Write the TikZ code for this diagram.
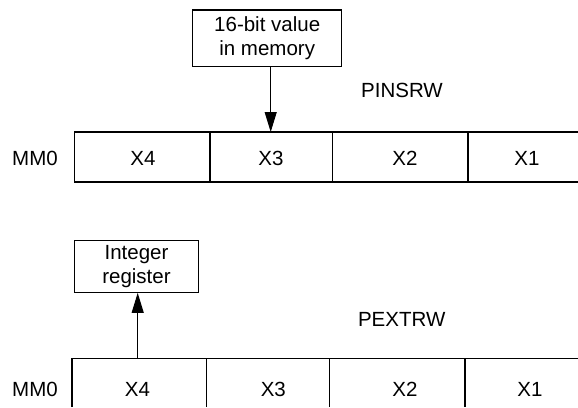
\documentclass[tikz,border=0pt]{standalone}
\usepackage{fontspec}
\setmainfont{Liberation Sans}
\usetikzlibrary{arrows.meta}
\begin{document}
\begin{tikzpicture}[x=1pt,y=-1pt,
  reg/.style={line width=1.2pt},
  lbl/.style={font=\fontsize{20.5}{24}\selectfont, inner sep=0pt, anchor=base},
  srcbox/.style={draw, line width=1.2pt, font=\fontsize{20.5}{24}\selectfont,
    align=center, inner sep=0pt},
  flow/.style={line width=1pt, -{Triangle[length=20pt,width=12pt]}}]
\useasboundingbox (0,0) rectangle (578,407);

% ---------- PINSRW ----------
\node[srcbox, minimum width=149pt, minimum height=56.7pt] (mem) at (267.2,38.4)
  {16-bit value\\in memory};
\node[lbl] (pins) at (402,97.7) {PINSRW};

% register MM0 (open on the right)
\draw[reg] (578,132) -- (74.7,132) -- (74.7,182) -- (578,182);
\foreach \x in {210,332.3,468} \draw[reg] (\x,132) -- (\x,182);
\node[lbl] (mmA) at (35,165.5) {MM0};
\node[lbl] (a4) at (143,165.7) {X4};
\node[lbl] (a3) at (271,165.7) {X3};
\node[lbl] (a2) at (405,165.7) {X2};
\node[lbl] (a1) at (527,165.7) {X1};

\coordinate (insert) at (270.7,132);
\draw[flow] (mem.south -| insert) -- (insert);

% ---------- PEXTRW ----------
\node[srcbox, minimum width=123.6pt, minimum height=51.6pt] (intreg) at (136.5,266.5)
  {Integer\\register};
\node[lbl] (pext) at (401.7,326) {PEXTRW};

% register MM0 (open on the right and below)
\draw[reg] (72,407) -- (72,358.3) -- (578,358.3);
\foreach \x in {206.7,329.3,465} \draw[reg] (\x,358.3) -- (\x,407);
\node[lbl] (mmB) at (35,396) {MM0};
\node[lbl] (b4) at (137.5,396) {X4};
\node[lbl] (b3) at (273.3,396) {X3};
\node[lbl] (b2) at (405,396) {X2};
\node[lbl] (b1) at (530,396) {X1};

\coordinate (extract) at (137.7,358.3);
\draw[flow] (extract) -- (extract |- intreg.south);
\end{tikzpicture}
\end{document}
